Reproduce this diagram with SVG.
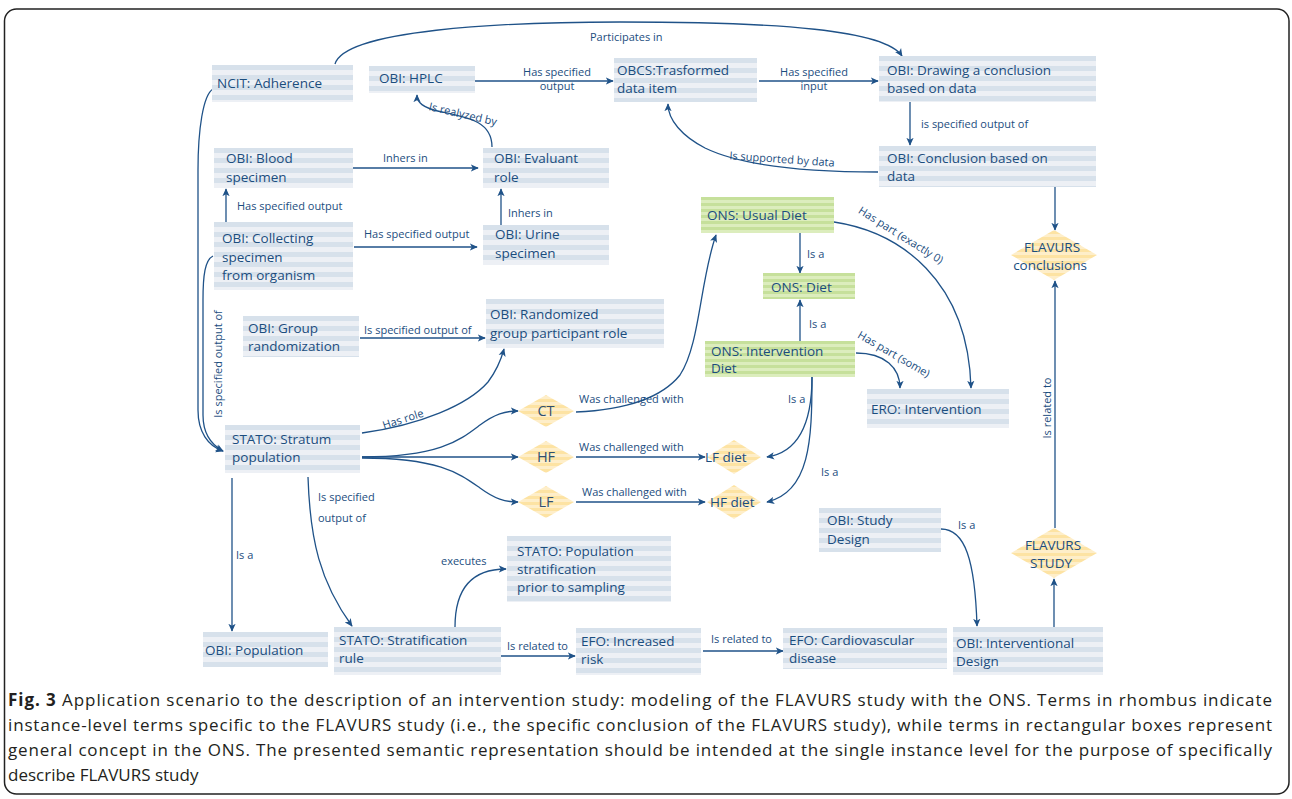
<svg xmlns="http://www.w3.org/2000/svg" width="1292" height="799" viewBox="0 0 1292 799">
<defs>
<pattern id="pb" patternUnits="userSpaceOnUse" width="40" height="10"><rect width="40" height="10" fill="#edf0f5"/><rect width="40" height="5" fill="#d7e1eb"/></pattern>
<pattern id="pg" patternUnits="userSpaceOnUse" width="40" height="6"><rect width="40" height="6" fill="#dcedbd"/><rect width="40" height="3" fill="#c6e09b"/></pattern>
<pattern id="py" patternUnits="userSpaceOnUse" width="40" height="6"><rect width="40" height="6" fill="#feeec9"/><rect width="40" height="3" fill="#fde3a3"/></pattern>
<marker id="ah" viewBox="0 0 10 10" refX="9" refY="5" markerWidth="8" markerHeight="8" markerUnits="userSpaceOnUse" orient="auto"><path d="M0,0.5 L10,5 L0,9.5 L2.5,5 z" fill="#1f5288"/></marker>
<style>
.bx{fill:url(#pb)}
.gx{fill:url(#pg)}
.yx{fill:url(#py)}
.t{font-family:"Open Sans","Noto Sans",sans-serif;font-size:13.5px;fill:#1b4d7e}
.dt{font-family:"Open Sans","Noto Sans",sans-serif;font-size:13.5px;fill:#1b4d7e;text-anchor:middle}
.dd{font-family:"Open Sans","Noto Sans",sans-serif;font-size:14.5px;fill:#2f4f6f;text-anchor:middle}
.l{font-family:"Open Sans","Noto Sans",sans-serif;font-size:11px;fill:#1b4d7e}
.lc{font-family:"Open Sans","Noto Sans",sans-serif;font-size:11px;fill:#1b4d7e;text-anchor:middle}
.c{fill:none;stroke:#1f5288;stroke-width:1.3;marker-end:url(#ah)}
.cap{font-family:"Open Sans","Noto Sans",sans-serif;font-size:17px;fill:#231f20}
</style>
</defs>
<rect x="4.5" y="9" width="1284.5" height="785" rx="12" fill="#ffffff" stroke="#222" stroke-width="1.5"/>

<g id="connectors">
<path class="c" d="M335,64 C345,30 500,22 620,22 C780,22 885,30 902,56"/>
<path class="c" d="M475,81 L613,81"/>
<path class="c" d="M759,81 L878,81"/>
<path class="c" d="M910,102 L910,145"/>
<path class="c" d="M878,172 C800,172 740,165 705,148 C682,136 668,120 668,104"/>
<path class="c" d="M1055,187 L1055,230"/>
<path class="c" d="M492,147 C492,122 470,118 442,112 C422,108 417,102 417,95"/>
<path class="c" d="M353,168 L478,168"/>
<path class="c" d="M226,222 L226,189"/>
<path class="c" d="M501,225 L501,189"/>
<path class="c" d="M354,247 L477,247"/>
<path class="c" d="M360,338 L485,338"/>
<path class="c" d="M213,89 C203,95 198,130 198,170 L198,410 C198,432 208,446 223,451"/>
<path class="c" d="M213,256 C205,260 203,275 203,300 L203,415 C203,432 210,444 223,451"/>
<path class="c" d="M362,433 C420,425 468,405 488,382 C497,370 501,360 504,349"/>
<path class="c" d="M362,457 C440,457 460,440 480,425 C495,414 505,411 518,411"/>
<path class="c" d="M362,457 L518,457"/>
<path class="c" d="M362,458 C440,458 460,474 480,488 C495,499 505,502 518,502"/>
<path class="c" d="M576,412 C620,410 660,400 680,375 C700,345 700,280 716,235"/>
<path class="c" d="M576,457 L705,457"/>
<path class="c" d="M576,502 L705,502"/>
<path class="c" d="M800,233 L800,273"/>
<path class="c" d="M800,341 L800,300"/>
<path class="c" d="M834,222 C900,232 968,280 971,388"/>
<path class="c" d="M856,353 C885,353 900,368 900,388"/>
<path class="c" d="M812,377 C812,420 800,452 767,457"/>
<path class="c" d="M812,377 C812,440 810,492 767,502"/>
<path class="c" d="M1055,528 L1055,281"/>
<path class="c" d="M1054,627 L1054,579"/>
<path class="c" d="M941,529 C965,529 975,560 977,626"/>
<path class="c" d="M232,478 L232,631"/>
<path class="c" d="M308,477 C310,540 320,582 352,626"/>
<path class="c" d="M455,627 C455,590 470,569 506,569"/>
<path class="c" d="M501,656 L575,656"/>
<path class="c" d="M703,651 L783,651"/>

<text class="l" x="590" y="41">Participates in</text>
<text class="lc" x="557" y="76">Has specified</text>
<text class="lc" x="557" y="90">output</text>
<text class="lc" x="814" y="76">Has specified</text>
<text class="lc" x="814" y="90">input</text>
<text class="l" x="921" y="128">is specified output of</text>
<text class="lc" transform="rotate(4,782,160)" x="782" y="163">Is supported by data</text>
<text class="lc" transform="rotate(13,463,114)" x="463" y="118">Is realyzed by</text>
<text class="l" x="383" y="162">Inhers in</text>
<text class="l" x="237" y="210">Has specified output</text>
<text class="l" x="508" y="217">Inhers in</text>
<text class="l" x="364" y="238">Has specified output</text>
<text class="l" x="364" y="334">Is specified output of</text>
<text class="lc" transform="rotate(-90,218,364)" x="218" y="368">Is specified output of</text>
<text class="lc" transform="rotate(-18,403,419)" x="403" y="423">Has role</text>
<text class="l" x="579" y="403">Was challenged with</text>
<text class="l" x="579" y="451">Was challenged with</text>
<text class="l" x="582" y="496">Was challenged with</text>
<text class="l" x="807" y="258">Is a</text>
<text class="l" x="809" y="328">Is a</text>
<text class="lc" transform="rotate(32,901,235)" x="901" y="239">Has part (exactly 0)</text>
<text class="lc" transform="rotate(30,894,354)" x="894" y="358">Has part (some)</text>
<text class="l" x="788" y="403">Is a</text>
<text class="l" x="821" y="476">Is a</text>
<text class="lc" transform="rotate(-90,1047,408)" x="1047" y="412">Is related to</text>
<text class="l" x="958" y="529">Is a</text>
<text class="l" x="236" y="559">Is a</text>
<text class="l" x="318" y="501">Is specified</text>
<text class="l" x="318" y="522">output of</text>
<text class="l" x="441" y="565">executes</text>
<text class="l" x="507" y="650">Is related to</text>
<text class="l" x="711" y="643">Is related to</text>
</g>

<g id="n-ncit" transform="translate(212,65)"><rect class="bx" width="141" height="37"/><text class="t" x="5" y="23">NCIT: Adherence</text></g>
<g id="n-hplc" transform="translate(369,66)"><rect class="bx" width="106" height="27"/><text class="t" x="10" y="17">OBI: HPLC</text></g>
<g id="n-obcs" transform="translate(614,58)"><rect class="bx" width="143" height="44"/><text class="t" x="3" y="17">OBCS:Trasformed</text><text class="t" x="3" y="35">data item</text></g>
<g id="n-drawing" transform="translate(879,56)"><rect class="bx" width="217" height="46"/><text class="t" x="8" y="19">OBI: Drawing a conclusion</text><text class="t" x="8" y="37">based on data</text></g>
<g id="n-conclusion" transform="translate(879,146)"><rect class="bx" width="217" height="41"/><text class="t" x="8" y="17">OBI: Conclusion based on</text><text class="t" x="8" y="35">data</text></g>
<g id="n-blood" transform="translate(214,148)"><rect class="bx" width="139" height="40"/><text class="t" x="12" y="15">OBI: Blood</text><text class="t" x="12" y="34">specimen</text></g>
<g id="n-evaluant" transform="translate(483,148)"><rect class="bx" width="126" height="40"/><text class="t" x="11" y="15">OBI: Evaluant</text><text class="t" x="11" y="34">role</text></g>
<g id="n-collecting" transform="translate(214,222)"><rect class="bx" width="139" height="68"/><text class="t" x="8" y="21">OBI: Collecting</text><text class="t" x="8" y="40">specimen</text><text class="t" x="8" y="58">from organism</text></g>
<g id="n-urine" transform="translate(483,225)"><rect class="bx" width="126" height="40"/><text class="t" x="12" y="14">OBI: Urine</text><text class="t" x="12" y="33">specimen</text></g>
<g id="n-group" transform="translate(243,316)"><rect class="bx" width="116" height="41"/><text class="t" x="5" y="17">OBI: Group</text><text class="t" x="5" y="35">randomization</text></g>
<g id="n-randomized" transform="translate(486,299)"><rect class="bx" width="178" height="49"/><text class="t" x="4" y="20">OBI: Randomized</text><text class="t" x="4" y="39">group participant role</text></g>
<g id="n-usual" transform="translate(701,197)"><rect class="gx" width="133" height="36"/><text class="t" x="6" y="23">ONS: Usual Diet</text></g>
<g id="n-diet" transform="translate(763,273)"><rect class="gx" width="92" height="26"/><text class="t" x="8" y="19">ONS: Diet</text></g>
<g id="n-intdiet" transform="translate(705,341)"><rect class="gx" width="150" height="36"/><text class="t" x="6" y="15">ONS: Intervention</text><text class="t" x="6" y="32">Diet</text></g>
<g id="n-ero" transform="translate(867,389)"><rect class="bx" width="142" height="39"/><text class="t" x="4" y="25">ERO: Intervention</text></g>
<g id="n-stratum" transform="translate(225,425)"><rect class="bx" width="135" height="48"/><text class="t" x="7" y="19">STATO: Stratum</text><text class="t" x="7" y="37">population</text></g>
<g id="n-population" transform="translate(203,632)"><rect class="bx" width="125" height="35"/><text class="t" x="2" y="23">OBI: Population</text></g>
<g id="n-stratrule" transform="translate(334,627)"><rect class="bx" width="167" height="48"/><text class="t" x="5" y="18">STATO: Stratification</text><text class="t" x="5" y="36">rule</text></g>
<g id="n-popstrat" transform="translate(507,536)"><rect class="bx" width="164" height="66"/><text class="t" x="10" y="20">STATO: Population</text><text class="t" x="10" y="38">stratification</text><text class="t" x="10" y="56">prior to sampling</text></g>
<g id="n-risk" transform="translate(576,628)"><rect class="bx" width="125" height="47"/><text class="t" x="5" y="18">EFO: Increased</text><text class="t" x="5" y="36">risk</text></g>
<g id="n-cardio" transform="translate(783,628)"><rect class="bx" width="164" height="41"/><text class="t" x="6" y="17">EFO: Cardiovascular</text><text class="t" x="6" y="35">disease</text></g>
<g id="n-studydesign" transform="translate(819,508)"><rect class="bx" width="122" height="44"/><text class="t" x="8" y="17">OBI: Study</text><text class="t" x="8" y="36">Design</text></g>
<g id="n-intdesign" transform="translate(953,627)"><rect class="bx" width="150" height="48"/><text class="t" x="3" y="21">OBI: Interventional</text><text class="t" x="3" y="39">Design</text></g>

<g id="n-flavconc" transform="translate(1054,255)"><polygon class="yx" points="-43,0 0,-25 43,0 0,25"/><text class="dt" x="-2" y="-3">FLAVURS</text><text class="dt" x="-4" y="15">conclusions</text></g>
<g id="n-flavstudy" transform="translate(1054,553)"><polygon class="yx" points="-43,0 0,-25 43,0 0,25"/><text class="dt" x="-1" y="-3">FLAVURS</text><text class="dt" x="-3" y="15">STUDY</text></g>
<g id="n-ct" transform="translate(546,411)"><polygon class="yx" points="-28,0 0,-16 28,0 0,16"/><text class="dd" x="0" y="5">CT</text></g>
<g id="n-hf" transform="translate(546,457)"><polygon class="yx" points="-28,0 0,-16 28,0 0,16"/><text class="dd" x="0" y="5">HF</text></g>
<g id="n-lf" transform="translate(546,502)"><polygon class="yx" points="-28,0 0,-16 28,0 0,16"/><text class="dd" x="0" y="5">LF</text></g>
<g id="n-lfdiet" transform="translate(734,457)"><polygon class="yx" points="-27,0 0,-17 27,0 0,17"/><text class="t" x="-29" y="5">LF diet</text></g>
<g id="n-hfdiet" transform="translate(734,502)"><polygon class="yx" points="-27,0 0,-17 27,0 0,17"/><text class="t" x="-24" y="5">HF diet</text></g>

<g id="caption">
<text class="cap" x="8" y="706" textLength="1264" lengthAdjust="spacing"><tspan font-weight="bold">Fig. 3</tspan> Application scenario to the description of an intervention study: modeling of the FLAVURS study with the ONS. Terms in rhombus indicate</text>
<text class="cap" x="8" y="731" textLength="1264" lengthAdjust="spacing">instance-level terms specific to the FLAVURS study (i.e., the specific conclusion of the FLAVURS study), while terms in rectangular boxes represent</text>
<text class="cap" x="8" y="756" textLength="1264" lengthAdjust="spacing">general concept in the ONS. The presented semantic representation should be intended at the single instance level for the purpose of specifically</text>
<text class="cap" x="8" y="781">describe FLAVURS study</text>
</g>
</svg>
